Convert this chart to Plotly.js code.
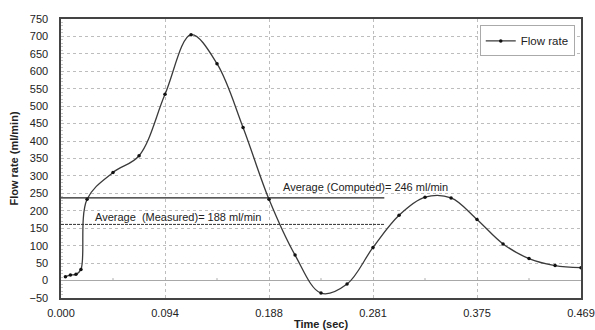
<!DOCTYPE html>
<html><head><meta charset="utf-8">
<script src="https://cdn.plot.ly/plotly-3.0.1.min.js"></script>
<style>html,body{margin:0;padding:0;background:#fff}#chart{width:595px;height:330px}</style>
</head><body><div id="chart"></div>
<script>
// Flow rate samples (time in s, flow in ml/min)
const timeSec = [0.004, 0.0085, 0.0135, 0.018, 0.0235, 0.0469, 0.0704, 0.0938, 0.1173, 0.1407, 0.1642, 0.1876, 0.2111, 0.2345, 0.2580, 0.2814, 0.3049, 0.3283, 0.3518, 0.3752, 0.3987, 0.4221, 0.4456, 0.469];
const flowRate = [11, 16, 18, 32, 233, 310, 358, 534, 705, 622, 439, 233, 73, -36, -10, 95, 187, 239, 237, 175, 105, 63, 43, 37];
const xTickVals = [0, 0.0938, 0.1876, 0.2814, 0.3752, 0.469];
const xTickText = ["0.000", "0.094", "0.188", "0.281", "0.375", "0.469"];
const avgComputedLine = 237;   // drawn level of the "Computed" line
const avgMeasuredLine = 161;   // drawn level of the "Measured" line
const avgLineEnd = 0.2916;
const labelComputed = "Average (Computed)= 246 ml/min";
const labelMeasured = "Average  (Measured)= 188 ml/min";

const font = "Liberation Sans, Arial, sans-serif";
const shapes = [
  {type:'line', xref:'x', yref:'y', x0:0, x1:avgLineEnd, y0:avgComputedLine, y1:avgComputedLine, line:{color:'#222', width:1.3}},
  {type:'line', xref:'x', yref:'y', x0:0, x1:avgLineEnd, y0:avgMeasuredLine, y1:avgMeasuredLine, line:{color:'#333', width:1, dash:'3px,1px'}}
];
// small tick marks on the zero line at midpoints between labelled ticks
for (let i = 0; i < xTickVals.length - 1; i++) {
  const m = (xTickVals[i] + xTickVals[i+1]) / 2;
  shapes.push({type:'line', xref:'x', yref:'y', x0:m, x1:m, y0:0, y1:7, line:{color:'#aaa', width:1}});
}

const trace = {
  x: timeSec, y: flowRate, type:'scatter', mode:'lines+markers', name:'Flow rate',
  line:{color:'#3a3a3a', width:1.3, shape:'spline', smoothing:1},
  marker:{color:'#111', size:3.5}
};

const layout = {
  width:595, height:330,
  margin:{l:61, r:14, t:19, b:32, pad:0},
  paper_bgcolor:'#fff', plot_bgcolor:'#fff',
  font:{family:font, size:11, color:'#222'},
  showlegend:true,
  legend:{x:0.988, y:0.977, xanchor:'right', yanchor:'top', bgcolor:'#fff', bordercolor:'#aaa', borderwidth:1,
          font:{family:font, size:11.5, color:'#222'}, itemwidth:30, tracegroupgap:0},
  xaxis:{range:[0, 0.469], tickmode:'array', tickvals:xTickVals, ticktext:xTickText,
         showgrid:true, gridcolor:'#bdbdbd', griddash:'dot', gridwidth:1,
         showline:true, linecolor:'#444', linewidth:1.6, mirror:true,
         zeroline:false, ticks:'', ticklabelstandoff:4,
         tickfont:{family:font, size:11, color:'#222'},
         title:{text:'<b>Time (sec)</b>', font:{family:font, size:11, color:'#222'}, standoff:3}},
  yaxis:{range:[-50, 750], tickmode:'linear', tick0:0, dtick:50,
         showgrid:true, gridcolor:'#bdbdbd', griddash:'dot', gridwidth:1,
         showline:true, linecolor:'#444', linewidth:1.6, mirror:true,
         zeroline:true, zerolinecolor:'#a8a8a8', zerolinewidth:1,
         ticks:'', ticklabelstandoff:9,
         minor:{ticks:'inside', dtick:10, ticklen:2, tickcolor:'#c8c8c8', showgrid:false},
         tickfont:{family:font, size:11, color:'#222'},
         title:{text:'<b>Flow rate (ml/min)</b>', font:{family:font, size:11, color:'#222'}, standoff:8}},
  shapes: shapes,
  annotations:[
    {xref:'x', yref:'y', x:0.1985, y:269, text:labelComputed, showarrow:false, xanchor:'left', yanchor:'middle', font:{family:font, size:11, color:'#222'}},
    {xref:'x', yref:'y', x:0.0291, y:183, text:labelMeasured.replace('  ', '&nbsp; '), showarrow:false, xanchor:'left', yanchor:'middle', font:{family:font, size:11, color:'#222'}}
  ]
};
Plotly.newPlot('chart', [trace], layout, {displayModeBar:false, staticPlot:true});
</script></body></html>
